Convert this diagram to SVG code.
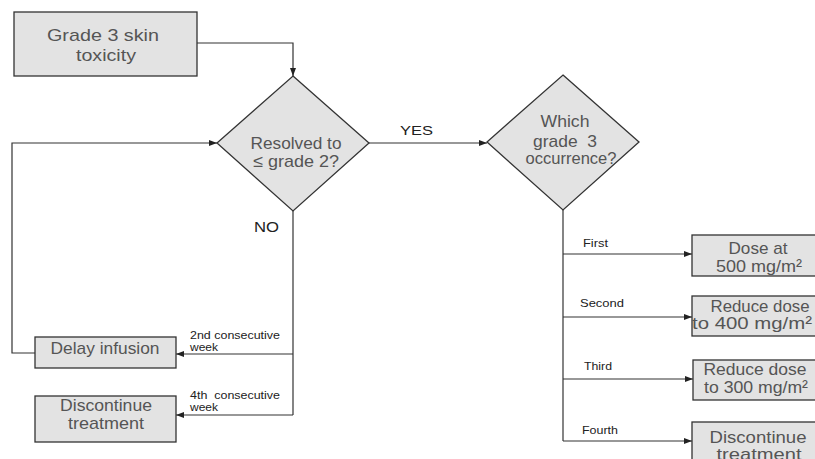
<svg xmlns="http://www.w3.org/2000/svg" width="815" height="459" viewBox="0 0 815 459">
<style>
.box{fill:#e3e3e3;stroke:#333;stroke-width:1.3}
.nt{font-family:"Liberation Sans",Arial,sans-serif;font-size:17px;fill:#555;text-anchor:middle}
.lb{font-family:"Liberation Sans",Arial,sans-serif;font-size:11.5px;fill:#222}
.yn{font-family:"Liberation Sans",Arial,sans-serif;fill:#222}
.ln{fill:none;stroke:#333;stroke-width:1.2}
</style>
<defs>
<marker id="ar" markerUnits="userSpaceOnUse" markerWidth="8" markerHeight="6" refX="8" refY="3" orient="auto">
<path d="M0,0 L8,3 L0,6 z" fill="#222"/>
</marker>
</defs>
<rect width="815" height="459" fill="#fff"/>
<g id="connectors">
<path class="ln" d="M197,43 H293 V76" marker-end="url(#ar)"/>
<path class="ln" d="M35,353 H12 V143 H217" marker-end="url(#ar)"/>
<path class="ln" d="M369,143 H487" marker-end="url(#ar)"/>
<path class="ln" d="M293,211 V415"/>
<path class="ln" d="M293,354 H176" marker-end="url(#ar)"/>
<path class="ln" d="M293,415 H176" marker-end="url(#ar)"/>
<path class="ln" d="M563,210 V441"/>
<path class="ln" d="M563,254 H692" marker-end="url(#ar)"/>
<path class="ln" d="M563,317 H692" marker-end="url(#ar)"/>
<path class="ln" d="M563,379 H693" marker-end="url(#ar)"/>
<path class="ln" d="M563,441 H692" marker-end="url(#ar)"/>
<text class="yn" x="400" y="135" font-size="13.5" textLength="33" lengthAdjust="spacingAndGlyphs">YES</text>
<text class="yn" x="254" y="232" font-size="15" textLength="25" lengthAdjust="spacingAndGlyphs">NO</text>
<text class="lb" x="190" y="339" font-size="10.5" textLength="90" lengthAdjust="spacingAndGlyphs">2nd consecutive</text>
<text class="lb" x="190" y="351" font-size="10.5" textLength="28" lengthAdjust="spacingAndGlyphs">week</text>
<text class="lb" x="190" y="399" font-size="10.5" textLength="90" lengthAdjust="spacingAndGlyphs" xml:space="preserve">4th  consecutive</text>
<text class="lb" x="190" y="411" font-size="10.5" textLength="28" lengthAdjust="spacingAndGlyphs">week</text>
<text class="lb" x="583" y="247" textLength="25" lengthAdjust="spacingAndGlyphs">First</text>
<text class="lb" x="580" y="307" textLength="44" lengthAdjust="spacingAndGlyphs">Second</text>
<text class="lb" x="584" y="370" textLength="28" lengthAdjust="spacingAndGlyphs">Third</text>
<text class="lb" x="582" y="434" textLength="36" lengthAdjust="spacingAndGlyphs">Fourth</text>
</g>
<g id="start">
<rect class="box" x="14" y="12" width="183" height="64"/>
<text class="nt" x="103" y="41" textLength="112" lengthAdjust="spacingAndGlyphs">Grade 3 skin</text>
<text class="nt" x="106" y="61" textLength="60" lengthAdjust="spacingAndGlyphs">toxicity</text>
</g>
<g id="resolved">
<polygon class="box" points="293,76 369,143 293,211 217,143"/>
<text class="nt" x="296" y="149" textLength="91" lengthAdjust="spacingAndGlyphs">Resolved to</text>
<text class="nt" x="296" y="167" textLength="86" lengthAdjust="spacingAndGlyphs">≤ grade 2?</text>
</g>
<g id="which">
<polygon class="box" points="563,75 639,142 563,210 487,142"/>
<text class="nt" x="565" y="127" textLength="49" lengthAdjust="spacingAndGlyphs">Which</text>
<text class="nt" x="565" y="147" textLength="64" lengthAdjust="spacingAndGlyphs" xml:space="preserve">grade  3</text>
<text class="nt" x="571" y="164" textLength="91" lengthAdjust="spacingAndGlyphs">occurrence?</text>
</g>
<g id="delay">
<rect class="box" x="35" y="337" width="141" height="31"/>
<text class="nt" x="105" y="354" textLength="109" lengthAdjust="spacingAndGlyphs">Delay infusion</text>
</g>
<g id="discontinue-left">
<rect class="box" x="35" y="396" width="141" height="46"/>
<text class="nt" x="106" y="411" textLength="92" lengthAdjust="spacingAndGlyphs">Discontinue</text>
<text class="nt" x="106" y="429" textLength="76" lengthAdjust="spacingAndGlyphs">treatment</text>
</g>
<g id="dose500">
<rect class="box" x="692" y="235" width="130" height="41"/>
<text class="nt" x="758" y="254" textLength="59" lengthAdjust="spacingAndGlyphs">Dose at</text>
<text class="nt" x="759" y="272" textLength="86" lengthAdjust="spacingAndGlyphs">500 mg/m²</text>
</g>
<g id="dose400">
<rect class="box" x="692" y="296" width="130" height="40"/>
<text class="nt" x="760" y="312" textLength="99" lengthAdjust="spacingAndGlyphs">Reduce dose</text>
<text class="nt" x="752" y="329" textLength="120" lengthAdjust="spacingAndGlyphs">to 400 mg/m²</text>
</g>
<g id="dose300">
<rect class="box" x="693" y="360" width="130" height="40"/>
<text class="nt" x="755" y="375" textLength="103" lengthAdjust="spacingAndGlyphs">Reduce dose</text>
<text class="nt" x="756" y="393" textLength="104" lengthAdjust="spacingAndGlyphs">to 300 mg/m²</text>
</g>
<g id="discontinue-right">
<rect class="box" x="692" y="422" width="130" height="50"/>
<text class="nt" x="758" y="443" textLength="97" lengthAdjust="spacingAndGlyphs">Discontinue</text>
<text class="nt" x="759" y="460" textLength="85" lengthAdjust="spacingAndGlyphs">treatment</text>
</g>
</svg>
